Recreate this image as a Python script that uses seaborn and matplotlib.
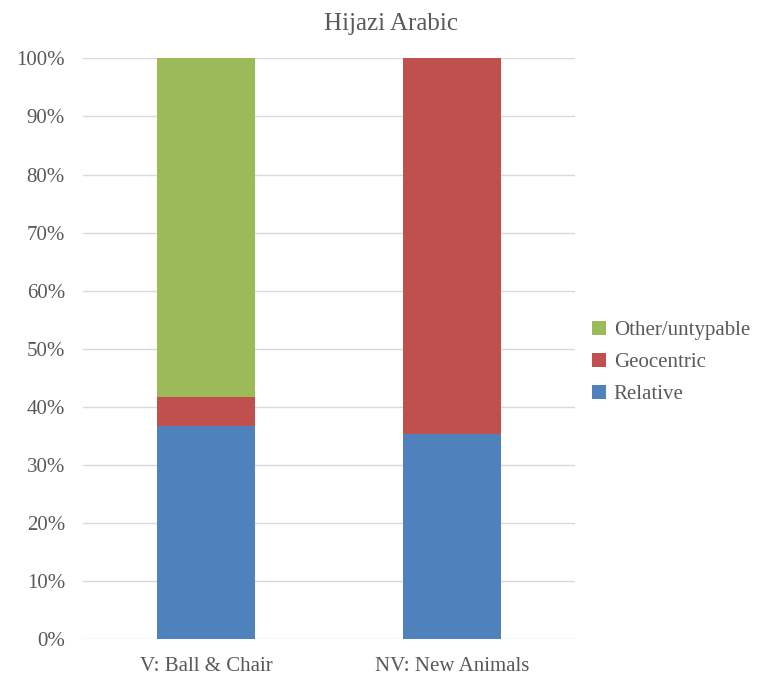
import matplotlib
matplotlib.use("Agg")
import matplotlib.pyplot as plt
import seaborn as sns
import pandas as pd
from matplotlib.patches import Patch

categories = ["V: Ball & Chair", "NV: New Animals"]
relative = [36.7, 35.4]
geocentric = [5.0, 64.6]
other = [58.3, 0.0]
series_names = ["Relative", "Geocentric", "Other/untypable"]
colors = ["#4F81BD", "#C0504D", "#9BBB59"]
title = "Hijazi Arabic"

sns.set_theme(style="white")
plt.rcParams['font.family'] = ['Liberation Serif', 'DejaVu Serif']
text_color = "#595959"

df = pd.DataFrame({"category": categories, "Relative": relative,
                   "Geocentric": geocentric, "Other/untypable": other})
df["c1"] = df["Relative"]
df["c2"] = df["Relative"] + df["Geocentric"]
df["c3"] = df["c2"] + df["Other/untypable"]

fig = plt.figure(figsize=(7.7, 6.79), dpi=100)
ax = fig.add_axes([0.1078, 0.0585, 0.639, 0.8556])

for col, color in zip(["c3", "c2", "c1"], colors[::-1]):
    sns.barplot(data=df, x="category", y=col, color=color, width=0.4,
                saturation=1, ax=ax, zorder=3, linewidth=0, edgecolor="none")

ax.set_xlim(-0.5, 1.5)
ax.set_ylim(0, 100)
ax.set_yticks(range(0, 101, 10))
ax.set_yticklabels([f"{v}%" for v in range(0, 101, 10)])
ax.yaxis.grid(True, color="#D9D9D9", linewidth=1, zorder=0)
ax.set_axisbelow(True)
for s in ax.spines.values():
    s.set_visible(False)
ax.set_xlabel("")
ax.set_ylabel("")
ax.tick_params(axis="both", length=0, labelsize=15, colors=text_color)
ax.tick_params(axis="y", pad=13)
ax.tick_params(axis="x", pad=13)
fig.text(0.508, 0.964, title, fontsize=18, color=text_color,
         ha="center", va="center")

handles = [Patch(facecolor=c, edgecolor="none") for c in colors[::-1]]
leg = fig.legend(handles, series_names[::-1], loc="center left",
                 bbox_to_anchor=(0.758, 0.466), frameon=False,
                 fontsize=15, handlelength=0.65, handleheight=0.65,
                 handletextpad=0.4, labelspacing=0.62, borderaxespad=0)
for t in leg.get_texts():
    t.set_color(text_color)

fig.savefig("out.png", dpi=100)
